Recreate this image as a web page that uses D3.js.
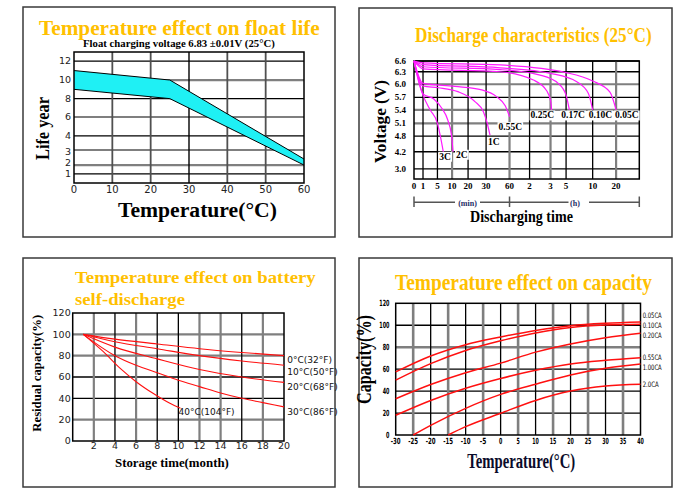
<!DOCTYPE html>
<html><head><meta charset="utf-8">
<script src="https://cdn.jsdelivr.net/npm/d3@7/dist/d3.min.js"></script>
<style>body{margin:0;background:#fff}svg{display:block}</style>
</head><body><svg id="c" width="693" height="500"></svg>
<script>
// ================= DATA =================
// Panel 1: float life
const lifeTemp = [0, 25, 60];
const lifeUpper = [11, 10, 2.4];
const lifeLower = [9, 8, 2];
const lifeXTicks = [0, 10, 20, 30, 40, 50, 60];
const lifeYTicks = [12, 10, 8, 6, 4, 3, 2, 1];

// Panel 2: discharge characteristics (minutes, volts)
const dischargeXTicks = [0, 1, 5, 10, 20, 30, 60, 120, 180, 300, 600, 1200];
const dischargeXLabels = ["0", "1", "5", "10", "20", "30", "60", "2", "3", "5", "10", "20"];
const dischargeYTicks = [6.6, 6.3, 6.0, 5.7, 5.4, 5.1, 4.8, 4.2, 3.0];
const dischargeNames = ["3C", "2C", "1C", "0.55C", "0.25C", "0.17C", "0.10C", "0.05C"];
const d3C   = [[0,6.6],[1,5.75],[3,5.4],[5,5.1],[6,4.8],[7,4.2]];
const d2C   = [[0,6.6],[1,5.78],[4,5.66],[6.5,5.44],[8.5,5.18],[9.8,4.82],[10.6,4.2]];
const d1C   = [[0,6.6],[1,5.96],[5.3,5.92],[13.6,5.83],[23.8,5.6],[28.5,5.36],[30.8,5.14],[35,4.82]];
const d055C = [[0,6.6],[1,6.02],[11.7,5.95],[27.6,5.87],[43.8,5.71],[54.5,5.5],[60,5.25]];
const d025C = [[0,6.6],[1,6.38],[48,6.3],[131,6.1],[169,5.85],[182,5.6],[188,5.4]];
const d017C = [[0,6.6],[1,6.44],[48,6.36],[150,6.22],[240,6.02],[300,5.75],[337,5.4]];
const d010C = [[0,6.6],[1,6.5],[48,6.41],[180,6.26],[421,6.06],[552,5.79],[600,5.4]];
const d005C = [[0,6.6],[1,6.55],[48,6.49],[300,6.28],[600,6.08],[1043,5.82],[1200,5.4]];

// Panel 3: self-discharge (month, %)
const sdXTicks = [2, 4, 6, 8, 10, 12, 14, 16, 18, 20];
const sdYTicks = [0, 20, 40, 60, 80, 100, 120];
const sdNames = ["0°C(32°F)", "10°C(50°F)", "20°C(68°F)", "30°C(86°F)", "40°C(104°F)"];
const sd0  = [[1,100],[4,95.5],[8,91],[12,86.5],[16,83],[20,80]];
const sd10 = [[1,100],[4,93],[8,86.5],[12,80],[16,75],[20,71]];
const sd20 = [[1,100],[4,88],[8,77],[12,67],[16,60],[20,55]];
const sd30 = [[1,100],[4,80],[6,71],[8,64],[10,57],[12,51],[14,45],[16,40],[18,36],[20,32]];
const sd40 = [[1,100],[2.9,83.7],[4.5,68],[6,55.6],[7.6,44.7],[9.2,35.3],[10.2,30.6]];

// Panel 4: capacity vs temperature (°C, %)
const capXTicks = [-30,-25,-20,-15,-10,-5,0,5,10,15,20,25,30,35,40];
const capYTicks = [0, 20, 40, 60, 80, 100, 120];
const capNames = ["0.05CA", "0.10CA", "0.20CA", "0.55CA", "1.00CA", "2.0CA"];
const c005 = [[-30,57.5],[-20,72],[-10,82.3],[0,89.3],[10,95.3],[20,99.6],[30,101.8],[40,103]];
const c010 = [[-30,50],[-20,65],[-10,77],[0,85.8],[10,93],[20,98],[30,100.2],[40,100.9]];
const c020 = [[-30,33],[-20,46],[-10,56.8],[0,65.5],[10,75.5],[20,83],[30,88.7],[40,92.7]];
const c055 = [[-30,18],[-20,31.5],[-10,42.6],[0,51.5],[10,59],[20,64.7],[30,68],[40,70.4]];
const c100 = [[-25,0],[-20,8.8],[-10,24.3],[0,37],[10,46.3],[20,54.7],[30,60.8],[40,64.7]];
const c200 = [[-15,0],[-10,7.6],[0,19.8],[10,31.5],[20,40],[30,44.6],[40,46.2]];

// ================= LAYOUT / STYLE =================
const SERIF = "'Liberation Serif','Times New Roman',serif";
const SANS = "'DejaVu Sans','Liberation Sans',sans-serif";
const NARROW = "'Liberation Sans Narrow','DejaVu Sans Condensed',sans-serif";
const ORANGE = "#FFC000";
const GRAY = "#7f7f7f";

const svg = d3.select("#c");

function pw(stops, fracs, a, b) {
  return d3.scaleLinear().domain(stops).range(fracs.map(f => a + f * (b - a)));
}
// text helper; with o.len the text is horizontally scaled to that width
function T(parent, str, x, y, o = {}) {
  const t = parent.append("text").text(str)
    .attr("font-family", o.ff || SERIF).attr("font-size", o.fs || 10)
    .attr("font-weight", o.fw || "normal").attr("fill", o.fill || "#000")
    .attr("text-anchor", o.anchor || "start");
  if (o.len) {
    t.attr("x", 0).attr("y", 0);
    const w = t.node().getComputedTextLength();
    const s = w > 0 ? o.len / w : 1;
    t.attr("transform", `translate(${x},${y})${o.rot ? " rotate(-90)" : ""} scale(${s},1)`);
  } else {
    t.attr("x", x).attr("y", y);
    if (o.rot) t.attr("transform", `rotate(-90,${x},${y})`);
  }
  return t;
}
function line(g, x1, y1, x2, y2, c, w) {
  g.append("line").attr("x1", x1).attr("y1", y1).attr("x2", x2).attr("y2", y2)
    .attr("stroke", c).attr("stroke-width", w);
}
function frame(x0, y0, x1, y1) {
  svg.append("rect").attr("x", x0).attr("y", y0).attr("width", x1 - x0).attr("height", y1 - y0)
    .attr("fill", "none").attr("stroke", "#3a3a3a").attr("stroke-width", 1.5);
}
function plotBox(g, x0, y0, x1, y1) {
  g.append("rect").attr("x", x0).attr("y", y0).attr("width", x1 - x0).attr("height", y1 - y0)
    .attr("fill", "none").attr("stroke", "#000").attr("stroke-width", 1.5);
}
function labelBox(g, t) {
  const b = t.node().getBBox();
  g.insert("rect", () => t.node()).attr("x", b.x - 1).attr("y", b.y).attr("width", b.width + 2)
    .attr("height", b.height).attr("fill", "#fff");
}

// panel frames
frame(23, 7, 335, 237);
frame(359, 8, 672, 237);
frame(23, 258, 335, 487);
frame(359, 258, 672, 487);

// ================= PANEL 1 =================
{
  const g = svg.append("g");
  const X0 = 74, X1 = 304, Y0 = 52, Y1 = 183;
  const x = d3.scaleLinear().domain([0, 60]).range([X0, X1]);
  const y = pw([0, 1, 2, 3, 4, 6, 8, 10, 12, 13],
               [0, .069, .137, .252, .359, .504, .644, .786, .931, 1], Y1, Y0);
  const grayH = [10, 2];
  lifeYTicks.forEach(v => {
    const gr = grayH.includes(v);
    line(g, X0, y(v), X1, y(v), gr ? GRAY : "#000", gr ? 2.2 : 1.2);
  });
  lifeXTicks.slice(1, -1).forEach(v => {
    line(g, x(v), Y0, x(v), Y1, v === 30 ? "#000" : "#505050", v === 30 ? 1.4 : 1.8);
  });
  const band = lifeTemp.map((t, i) => ({ t, lo: lifeLower[i], hi: lifeUpper[i] }));
  g.append("path").datum(band)
    .attr("d", d3.area().x(d => x(d.t)).y0(d => y(d.lo)).y1(d => y(d.hi)))
    .attr("fill", "#1ff0f4");
  ["lo", "hi"].forEach(k => {
    g.append("path").datum(band).attr("d", d3.line().x(d => x(d.t)).y(d => y(d[k])))
      .attr("fill", "none").attr("stroke", "#000").attr("stroke-width", 1);
  });
  plotBox(g, X0, Y0, X1, Y1);
  lifeXTicks.forEach(v => T(g, String(v), x(v), 193, { ff: SANS, fs: 10, anchor: "middle", fill: "#222" }));
  const yNudge = { 3: 1.7, 2: -2.7 };
  lifeYTicks.forEach(v => T(g, String(v), 71, y(v) + 3.4 + (yNudge[v] || 0),
    { ff: SANS, fs: 9.5, anchor: "end", fill: "#222" }));
  T(g, "Temperature effect on float life", 39, 35, { fs: 20, fw: "bold", fill: ORANGE, len: 281 });
  T(g, "Float charging voltage  6.83 ±0.01V (25°C)", 83, 47, { fs: 10, fw: "bold", len: 192 });
  T(g, "Temperature(°C)", 118, 217, { fs: 20, fw: "bold", len: 159 });
  T(g, "Life year", 49, 160, { fs: 19, fw: "bold", len: 63, rot: true });
}

// ================= PANEL 2 =================
{
  const g = svg.append("g");
  const X0 = 414, X1 = 639.3, Y0 = 61, Y1 = 179;
  const x = pw([0, 1, 5, 10, 20, 30, 60, 120, 180, 300, 600, 1200, 1800],
               [0, .04, .104, .169, .24, .32, .424, .513, .606, .675, .793, .897, 1], X0, X1);
  const y = pw([6.6, 6.3, 6.0, 5.7, 5.4, 5.1, 4.8, 4.2, 3.0, 2.6],
               [0, .091, .197, .308, .415, .528, .636, .769, .915, 1], Y0, Y1);
  const grayH = [6.0, 5.4, 5.1];
  dischargeYTicks.forEach(v => {
    const gr = grayH.includes(v);
    line(g, X0, y(v), X1, y(v), gr ? GRAY : "#000", gr ? 2.2 : 1.3);
  });
  const grayV = [10, 60, 180, 1200];
  dischargeXTicks.slice(1).forEach(v => {
    const gr = grayV.includes(v);
    line(g, x(v), Y0, x(v), Y1, gr ? GRAY : "#000", gr ? 2.2 : 1.3);
  });
  plotBox(g, X0, Y0, X1, Y1);
  const series = [d3C, d2C, d1C, d055C, d025C, d017C, d010C, d005C];
  const ln = d3.line().x(d => x(d[0])).y(d => y(d[1])).curve(d3.curveMonotoneX);
  series.forEach(s => g.append("path").datum(s).attr("d", ln)
    .attr("fill", "none").attr("stroke", "#ff1aff").attr("stroke-width", 1.2));
  // curve labels placed near curve ends
  const lblOff = [[-4, 8], [3, 6], [-2, 10], [-11, 13.5], [-21, 8.5], [-8, 8.5], [-4, 8.5], [-1, 8.5]];
  dischargeNames.forEach((n, i) => {
    const e = series[i][series[i].length - 1];
    const t = T(g, n, x(e[0]) + lblOff[i][0], y(e[1]) + lblOff[i][1], { fs: 9.5, fw: "bold" });
    labelBox(g, t);
  });
  dischargeXTicks.forEach((v, i) => T(g, dischargeXLabels[i], x(v), 188.5, { fs: 9, fw: "bold", anchor: "middle" }));
  dischargeYTicks.forEach(v => T(g, v.toFixed(1), 406, y(v) + 3, { fs: 9, fw: "bold", anchor: "end" }));
  // time-unit bracket
  const by = 202.3, bc = "#555";
  line(g, x(0), by, 455, by, bc, 1.5);
  line(g, 480, by, 568.5, by, bc, 1.5);
  line(g, 589, by, X1, by, bc, 1.5);
  [x(0), x(60), X1].forEach(v => line(g, v, 196.5, v, 207, bc, 1.5));
  T(g, "(min)", 467.5, 205.5, { fs: 8, fw: "bold", anchor: "middle", fill: "#1d2b66" });
  T(g, "(h)", 575, 205.5, { fs: 8, fw: "bold", anchor: "middle", fill: "#1d2b66" });
  T(g, "Discharge characteristics (25°C)", 415, 41.7, { fs: 20, fw: "bold", fill: ORANGE, len: 237 });
  T(g, "Discharging time", 470, 221.7, { fs: 17, fw: "bold", len: 103 });
  T(g, "Voltage (V)", 386, 163, { fs: 17, fw: "bold", len: 83, rot: true });
}

// ================= PANEL 3 =================
{
  const g = svg.append("g");
  const X0 = 72.7, X1 = 284, Y0 = 313, Y1 = 441;
  const x = d3.scaleLinear().domain([0, 20]).range([X0, X1]);
  const y = d3.scaleLinear().domain([0, 120]).range([Y1, Y0]);
  const grayH = [100, 80, 20];
  sdYTicks.slice(1, -1).forEach(v => {
    const gr = grayH.includes(v);
    line(g, X0, y(v), X1, y(v), gr ? GRAY : "#000", gr ? 2.2 : 1.3);
  });
  const grayV = [2, 6, 12, 14, 18];
  sdXTicks.slice(0, -1).forEach(v => {
    const gr = grayV.includes(v);
    line(g, x(v), Y0, x(v), Y1, gr ? GRAY : "#000", gr ? 2.2 : 1.3);
  });
  plotBox(g, X0, Y0, X1, Y1);
  const series = [sd0, sd10, sd20, sd30, sd40];
  const ln = d3.line().x(d => x(d[0])).y(d => y(d[1])).curve(d3.curveMonotoneX);
  series.forEach(s => g.append("path").datum(s).attr("d", ln)
    .attr("fill", "none").attr("stroke", "#ff1010").attr("stroke-width", 1.1));
  const lblOff = [[3.3, 7.7], [3.3, 9.7], [3.3, 7.7], [3.3, 8], [-2, 7]];
  sdNames.forEach((n, i) => {
    const e = series[i][series[i].length - 1];
    T(g, n, x(e[0]) + lblOff[i][0], y(e[1]) + lblOff[i][1], { ff: SANS, fs: 9, fill: "#111" });
  });
  sdXTicks.forEach(v => T(g, String(v), x(v), 449.3, { ff: SANS, fs: 9.5, anchor: "middle", fill: "#222" }));
  sdYTicks.forEach(v => T(g, String(v), 70.7, y(v) + 3.4, { ff: SANS, fs: 9.5, anchor: "end", fill: "#222" }));
  T(g, "Temperature effect on battery", 75, 283.3, { fs: 17.5, fw: "bold", fill: ORANGE, len: 241 });
  T(g, "self-discharge", 75, 305, { fs: 17.5, fw: "bold", fill: ORANGE, len: 110 });
  T(g, "Storage time(month)", 115, 467.3, { fs: 13.5, fw: "bold", len: 114 });
  T(g, "Residual capacity(%)", 40.5, 431.7, { fs: 13.5, fw: "bold", len: 117, rot: true });
}

// ================= PANEL 4 =================
{
  const g = svg.append("g");
  const X0 = 395.7, X1 = 640.5, Y0 = 303.3, Y1 = 435;
  const x = d3.scaleLinear().domain([-30, 40]).range([X0, X1]);
  const y = d3.scaleLinear().domain([0, 120]).range([Y1, Y0]);
  const grayH = [80];
  capYTicks.slice(1, -1).forEach(v => {
    const gr = grayH.includes(v);
    line(g, X0, y(v), X1, y(v), gr ? GRAY : "#000", gr ? 2.4 : 1.3);
  });
  capXTicks.slice(1, -1).forEach(v => {
    const gr = v % 10 !== 0;
    line(g, x(v), Y0, x(v), Y1, gr ? GRAY : "#000", gr ? 2.6 : 1.3);
  });
  plotBox(g, X0, Y0, X1, Y1);
  const series = [c005, c010, c020, c055, c100, c200];
  const ln = d3.line().x(d => x(d[0])).y(d => y(d[1])).curve(d3.curveMonotoneX);
  series.forEach(s => g.append("path").datum(s).attr("d", ln)
    .attr("fill", "none").attr("stroke", "#ff1010").attr("stroke-width", 1.5));
  const lblDy = [-3.8, 3.6, 4.4, 2.6, 5.8, 2.4];
  capNames.forEach((n, i) => {
    const e = series[i][series[i].length - 1];
    T(g, n, X1 + 2.2, y(e[1]) + lblDy[i], { ff: NARROW, fs: 7.5, len: n.length > 5 ? 19 : 16 });
  });
  capXTicks.forEach(v => {
    const s = String(v);
    T(g, s, x(v), 444, { ff: NARROW, fs: 8.5, fw: "bold", anchor: "middle", len: s.length * 3.3 });
  });
  capYTicks.forEach(v => {
    const s = String(v);
    T(g, s, 389.5 - s.length * 3.4, y(v) + 3, { ff: NARROW, fs: 8.5, fw: "bold", len: s.length * 3.4 });
  });
  T(g, "Temperature effect on capacity", 395, 290, { fs: 23, fw: "bold", fill: ORANGE, len: 257 });
  T(g, "Temperature(°C)", 467.3, 468.3, { fs: 20, fw: "bold", len: 108, fill: "#0b0b2a" });
  T(g, "Capacity(%)", 371, 404, { fs: 20, fw: "bold", len: 89, rot: true });
}
</script></body></html>
